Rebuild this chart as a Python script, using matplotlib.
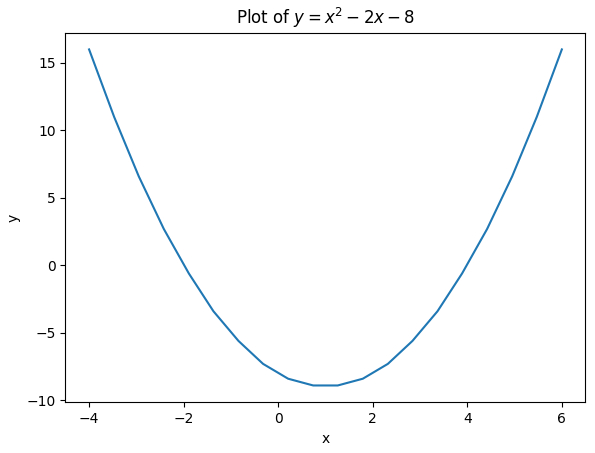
import matplotlib
matplotlib.use("Agg")
import matplotlib.pyplot as plt

# values
x_vals = [-4.00, -3.47, -2.95, -2.42, -1.89, -1.37, -0.84, -0.32, 0.21, 0.74,
          1.26, 1.79, 2.32, 2.84, 3.37, 3.89, 4.42, 4.95, 5.47, 6.00]
y_vals = [16.0, 11.0, 6.6, 2.7, -0.6, -3.4, -5.6, -7.3, -8.4, -8.9,
          -8.9, -8.4, -7.3, -5.6, -3.4, -0.6, 2.7, 6.6, 11.0, 16.0]

fig, ax = plt.subplots(figsize=(5.95, 4.53), dpi=100)
fig.subplots_adjust(left=0.110, right=0.984, top=0.928, bottom=0.112)
ax.plot(x_vals, y_vals)
ax.set_xlabel("x")
ax.set_ylabel("y")
ax.set_title("Plot of $y = x^2 - 2x - 8$")
fig.savefig("out.png", dpi=100)
